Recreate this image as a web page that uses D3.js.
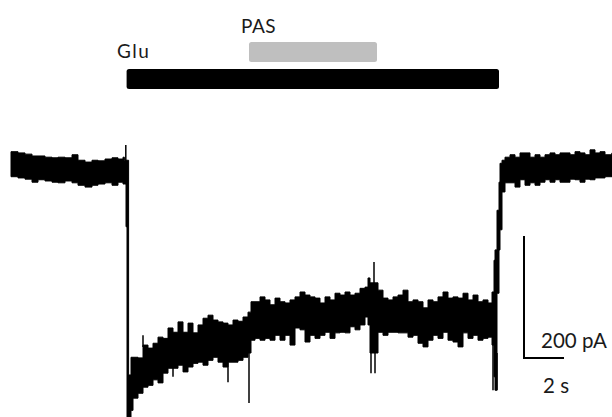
<!DOCTYPE html>
<html><head><meta charset="utf-8">
<script src="https://cdn.jsdelivr.net/npm/d3@7"></script>
<style>
html,body{margin:0;padding:0;background:#fff;}
svg{display:block;}
text{font-family:Lato,"Open Sans",sans-serif;fill:#1a1a1a;}
</style></head>
<body>
<svg id="chart" width="612" height="417"></svg>
<script>
// Time (s) of envelope samples
const time = [0.05,0.4,0.75,1.1,1.4,1.75,2.1,2.4,2.75,3.1,3.4,3.75,4.1,4.4,4.75,5.1,5.4,5.65,
  5.72,5.8,5.85,5.93,6.05,6.15,6.4,6.65,6.9,7.15,7.4,7.65,7.9,8.15,8.4,8.65,8.9,9.15,9.4,9.65,9.9,
  10.15,10.4,10.65,10.9,11.15,11.4,11.65,11.9,12.05,12.25,12.5,12.75,13.0,13.25,13.5,13.75,14.0,
  14.25,14.5,14.75,15.0,15.25,15.5,15.75,16.0,16.25,16.5,16.75,17.0,17.25,17.5,17.75,17.9,18.0,
  18.4,18.65,18.9,19.15,19.4,19.65,19.9,20.15,20.4,20.65,20.9,21.15,21.4,21.65,21.9,22.15,22.4,
  22.65,22.9,23.15,23.4,23.65,23.9,24.1,24.2,24.25,24.35,24.45,24.5,24.6,24.75,25.0,25.25,25.5,
  25.75,26.0,26.25,26.5,26.75,27.0,27.25,27.5,27.75,28.0,28.25,28.5,28.75,29.0,29.25,29.5,29.75,30.1];
// Upper envelope of the current trace (pA)
const upper = [30,28,26,23,23,21,20,21,20,25,16,13,16,15,18,20,18,21,
  16,16,16,-336,-307,-307,-308,-287,-292,-284,-274,-276,-259,-266,-249,-266,-251,-267,-254,-243,-238,
  -246,-249,-251,-254,-246,-248,-241,-233,-216,-216,-208,-213,-221,-210,-216,-218,-213,
  -208,-200,-205,-208,-210,-218,-208,-213,-202,-205,-200,-205,-202,-194,-192,-177,-185,
  -197,-210,-213,-208,-205,-197,-216,-213,-216,-226,-213,-216,-208,-200,-210,-208,-210,
  -202,-213,-205,-216,-213,-218,-200,-148,-131,-66,-20,11,16,21,25,21,28,
  28,21,25,21,25,28,25,28,28,25,30,28,25,33,28,30,25,28];
// Lower envelope of the current trace (pA)
const lower = [-11,-13,-15,-20,-16,-18,-20,-21,-18,-21,-25,-28,-25,-23,-21,-25,-20,-23,
  -23,-93,-405,-405,-394,-374,-366,-356,-353,-344,-349,-333,-325,-325,-320,-331,-323,-317,-315,-320,-312,
  -307,-315,-323,-315,-315,-312,-307,-300,-279,-276,-279,-276,-279,-271,-279,-271,-287,
  -259,-262,-282,-271,-276,-271,-266,-276,-267,-266,-267,-257,-262,-254,-241,-254,-300,
  -266,-271,-266,-266,-267,-267,-274,-271,-284,-290,-279,-271,-276,-266,-279,-282,-290,
  -267,-276,-271,-279,-276,-274,-287,-339,-361,-202,-131,-98,-36,-21,-21,-28,-16,
  -25,-21,-25,-20,-16,-20,-16,-20,-20,-15,-16,-20,-15,-16,-13,-13,-11,-11];
// Brief transients: time (s), start (pA), peak (pA)
const spikeTime = [5.79, 8.15, 10.9, 11.95, 18.05, 18.2, 18.25, 24.15, 24.35, 6.65];
const spikeFrom = [0, -320, -315, -300, -290, -200, -290, -287, -300, -290];
const spikeTo   = [41, -339, -348, -382, -333, -151, -333, -361, -361, -271];
// Drug application bars: label, start (s), end (s)
const drugLabels = ["Glu", "PAS"];
const drugStart = [5.83, 11.95];
const drugEnd = [24.45, 18.35];
// Scale bar
const scaleBarTime = 25.7, scaleBarCurrent = -308;
const scaleBarAmp = 200, scaleBarDur = 2;
const scaleLabels = ["200 pA", "2 s"];

const svg = d3.select("#chart");
const x = d3.scaleLinear().domain([0, 30.1]).range([10, 612]);
const y = d3.scaleLinear().domain([0, -400]).range([170, 414]);

const pts = time.map((t, i) => ({t, u: upper[i], l: lower[i]}));
svg.append("path")
  .datum(pts)
  .attr("d", d3.area().curve(d3.curveStepAfter)
    .x(d => x(d.t)).y0(d => y(d.l)).y1(d => y(d.u)))
  .attr("fill", "#000").attr("stroke", "#000").attr("stroke-width", 1);

svg.append("g").selectAll("line").data(spikeTime).join("line")
  .attr("x1", (d) => x(d)).attr("x2", (d) => x(d))
  .attr("y1", (d, i) => y(spikeFrom[i])).attr("y2", (d, i) => y(spikeTo[i]))
  .attr("stroke", "#000").attr("stroke-width", 1.5);

// drug bars
const barY = [69, 42], barH = 20, barColor = ["#000", "#bfbfbf"];
drugLabels.forEach((lab, i) => {
  svg.append("rect").attr("x", x(drugStart[i])).attr("y", barY[i])
    .attr("width", x(drugEnd[i]) - x(drugStart[i])).attr("height", barH)
    .attr("rx", 2.5).attr("fill", barColor[i]);
});
svg.append("text").attr("x", 117).attr("y", 58).attr("font-size", 19)
  .attr("letter-spacing", 1.5).text(drugLabels[0]);
svg.append("text").attr("x", 241).attr("y", 33).attr("font-size", 19)
  .attr("letter-spacing", 0.5).text(drugLabels[1]);

// scale bar
const sx = x(scaleBarTime), sy = y(scaleBarCurrent);
svg.append("path")
  .attr("d", `M${sx},${y(scaleBarCurrent + scaleBarAmp)}V${sy}H${x(scaleBarTime + scaleBarDur)}`)
  .attr("fill", "none").attr("stroke", "#000").attr("stroke-width", 2);
svg.append("text").attr("x", 541).attr("y", 348).attr("font-size", 20.5).text(scaleLabels[0]);
svg.append("text").attr("x", 543).attr("y", 393).attr("font-size", 20.5).text(scaleLabels[1]);
</script>
</body></html>
